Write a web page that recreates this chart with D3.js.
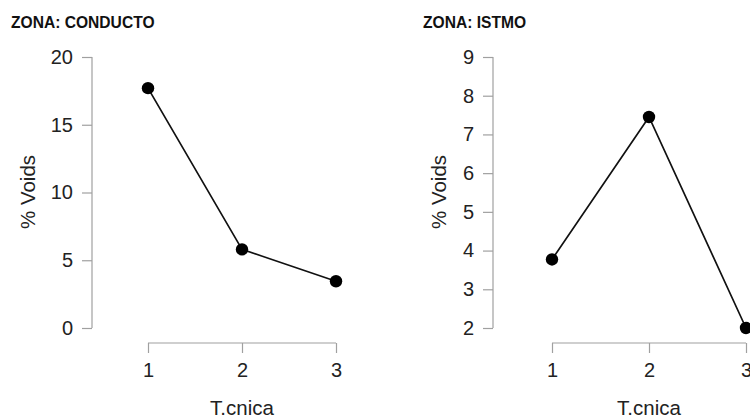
<!DOCTYPE html>
<html><head><meta charset="utf-8">
<script src="https://cdn.jsdelivr.net/npm/d3@7"></script>
<style>body{margin:0;background:#fff}svg{display:block}</style>
</head><body>
<svg id="c" width="750" height="419"></svg>
<script>
const tecnica = [1, 2, 3];
const conducto = [17.7, 5.8, 3.45];
const istmo = [3.77, 7.45, 2.0];
const conductoTicks = [0, 5, 10, 15, 20];
const istmoTicks = [2, 3, 4, 5, 6, 7, 8, 9];
const titles = ["ZONA: CONDUCTO", "ZONA: ISTMO"];

const svg = d3.select("#c");
const font = "Liberation Sans, Arial, sans-serif";
const axisColor = "#a0a0a0";

const panels = [
  {title: titles[0], values: conducto, ticks: conductoTicks, domain: [0, 20], x0: 92, xr: [148, 336], titleX: 11, labX: 35},
  {title: titles[1], values: istmo, ticks: istmoTicks, domain: [2, 9], x0: 493, xr: [552, 746], titleX: 423, labX: 446}
];

panels.forEach(p => {
  const g = svg.append("g");
  const y = d3.scaleLinear().domain(p.domain).range([328, 57]);
  const x = d3.scaleLinear().domain([1, 3]).range(p.xr);

  g.append("text").attr("x", p.titleX).attr("y", 28)
    .attr("font-family", font).attr("font-weight", "bold").attr("font-size", 15.6)
    .attr("fill", "#111").text(p.title);

  const ya = g.append("g").attr("transform", `translate(${p.x0},0)`)
    .call(d3.axisLeft(y).tickValues(p.ticks).tickSize(10).tickPadding(9).tickFormat(d3.format("d")));
  const xa = g.append("g").attr("transform", `translate(0,343)`)
    .call(d3.axisBottom(x).tickValues(tecnica).tickSize(10).tickPadding(10).tickFormat(d3.format("d")));
  [ya, xa].forEach(a => {
    a.attr("font-size", 20).attr("font-family", font);
    a.select(".domain").attr("stroke", axisColor).attr("stroke-width", 1.2);
    a.selectAll(".tick line").attr("stroke", axisColor).attr("stroke-width", 1.2);
    a.selectAll(".tick text").attr("fill", "#222");
  });
  ya.select(".domain").attr("d", `M0,${y(p.domain[0])}V${y(p.domain[1])}`);
  xa.select(".domain").attr("d", `M${x(1)},0H${x(3)}`);

  g.append("text").attr("transform", `translate(${p.labX},${192}) rotate(-90)`)
    .attr("text-anchor", "middle").attr("font-family", font).attr("font-size", 20.5)
    .attr("fill", "#222").text("% Voids");
  g.append("text").attr("x", (p.xr[0] + p.xr[1]) / 2).attr("y", 415)
    .attr("text-anchor", "middle").attr("font-family", font).attr("font-size", 20.5)
    .attr("fill", "#222").text("T.cnica");

  const pts = tecnica.map((t, i) => [t, p.values[i]]);
  g.append("path").datum(pts)
    .attr("d", d3.line().x(d => x(d[0])).y(d => y(d[1])))
    .attr("fill", "none").attr("stroke", "#111").attr("stroke-width", 1.7);
  g.selectAll("circle").data(pts).join("circle")
    .attr("cx", d => x(d[0])).attr("cy", d => y(d[1])).attr("r", 6.2).attr("fill", "#000");
});
</script>
</body></html>
